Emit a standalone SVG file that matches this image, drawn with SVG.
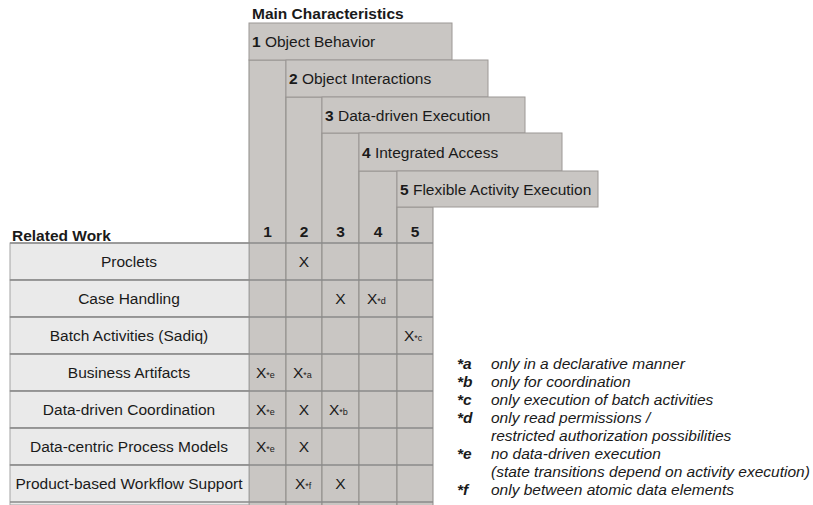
<svg xmlns="http://www.w3.org/2000/svg" width="813" height="505" viewBox="0 0 813 505">
<style>
text{font-family:"Liberation Sans",Arial,sans-serif;fill:#1a1a1a}
.hb{fill:#c9c6c3;stroke:#9c9895;stroke-width:1}
.col{fill:#c9c6c3;stroke:#8e8b88;stroke-width:1}
.lab{fill:#eaeaea;stroke:#a3a3a3;stroke-width:1}
.ht{font-size:15.5px}
.b{font-weight:bold}
.lt{font-size:15.5px;text-anchor:middle}
.x{font-size:15.5px;text-anchor:middle}
.s{font-size:9px}
.rl{stroke:#8a8a8a;stroke-width:1.5}
.fk{font-size:15.5px;font-style:italic;font-weight:bold}
.ft{font-size:15.5px;font-style:italic}
</style>
<text x="252" y="19" class="ht b">Main Characteristics</text>
<text x="12" y="241" class="ht b">Related Work</text>
<g id="columns">
<rect class="col" x="249" y="60" width="37" height="450"/>
<rect class="col" x="286" y="97" width="36" height="413"/>
<rect class="col" x="322" y="133" width="37" height="377"/>
<rect class="col" x="359" y="171" width="38" height="339"/>
<rect class="col" x="397" y="207" width="36" height="303"/>
</g>
<g id="char1"><rect class="hb" x="249" y="23" width="203" height="37"/><text x="252" y="47" class="ht"><tspan class="b">1</tspan> Object Behavior</text></g>
<g id="char2"><rect class="hb" x="286" y="60" width="202" height="37"/><text x="289" y="84" class="ht"><tspan class="b">2</tspan> Object Interactions</text></g>
<g id="char3"><rect class="hb" x="322" y="97" width="203" height="36"/><text x="325" y="121" class="ht"><tspan class="b">3</tspan> Data-driven Execution</text></g>
<g id="char4"><rect class="hb" x="359" y="133" width="203" height="38"/><text x="362" y="158" class="ht"><tspan class="b">4</tspan> Integrated Access</text></g>
<g id="char5"><rect class="hb" x="397" y="171" width="201" height="36"/><text x="400" y="195" class="ht"><tspan class="b">5</tspan> Flexible Activity Execution</text></g>
<g id="colnums">
<text x="267.5" y="237" class="x b">1</text>
<text x="304" y="237" class="x b">2</text>
<text x="340.5" y="237" class="x b">3</text>
<text x="378" y="237" class="x b">4</text>
<text x="415" y="237" class="x b">5</text>
</g>
<g id="rows">
<rect class="lab" x="10" y="243" width="239" height="37"/>
<rect class="lab" x="10" y="280" width="239" height="37"/>
<rect class="lab" x="10" y="317" width="239" height="37"/>
<rect class="lab" x="10" y="354" width="239" height="37"/>
<rect class="lab" x="10" y="391" width="239" height="37"/>
<rect class="lab" x="10" y="428" width="239" height="37"/>
<rect class="lab" x="10" y="465" width="239" height="40"/>
<line class="rl" x1="10" y1="243" x2="433" y2="243"/>
<line class="rl" x1="10" y1="280" x2="433" y2="280"/>
<line class="rl" x1="10" y1="317" x2="433" y2="317"/>
<line class="rl" x1="10" y1="354" x2="433" y2="354"/>
<line class="rl" x1="10" y1="391" x2="433" y2="391"/>
<line class="rl" x1="10" y1="428" x2="433" y2="428"/>
<line class="rl" x1="10" y1="465" x2="433" y2="465"/>
<line class="rl" x1="10" y1="502" x2="433" y2="502"/>
</g>
<g id="labels">
<text x="129" y="267" class="lt">Proclets</text>
<text x="129" y="304" class="lt">Case Handling</text>
<text x="129" y="341" class="lt">Batch Activities (Sadiq)</text>
<text x="129" y="378" class="lt">Business Artifacts</text>
<text x="129" y="415" class="lt">Data-driven Coordination</text>
<text x="129" y="452" class="lt">Data-centric Process Models</text>
<text x="129" y="489" class="lt">Product-based Workflow Support</text>
</g>
<g id="marks">
<text x="304" y="267" class="x">X</text>
<text x="340.5" y="304" class="x">X</text>
<text x="367" y="304" class="ht">X<tspan class="s">*d</tspan></text>
<text x="404" y="341" class="ht">X<tspan class="s">*c</tspan></text>
<text x="256" y="378" class="ht">X<tspan class="s">*e</tspan></text>
<text x="293" y="378" class="ht">X<tspan class="s">*a</tspan></text>
<text x="256" y="415" class="ht">X<tspan class="s">*e</tspan></text>
<text x="304" y="415" class="x">X</text>
<text x="329" y="415" class="ht">X<tspan class="s">*b</tspan></text>
<text x="256" y="452" class="ht">X<tspan class="s">*e</tspan></text>
<text x="304" y="452" class="x">X</text>
<text x="295" y="489" class="ht">X<tspan class="s">*f</tspan></text>
<text x="340.5" y="489" class="x">X</text>
</g>
<g id="footnotes">
<text x="457" y="369" class="fk">*a</text><text x="491" y="369" class="ft">only in a declarative manner</text>
<text x="457" y="387" class="fk">*b</text><text x="491" y="387" class="ft">only for coordination</text>
<text x="457" y="405" class="fk">*c</text><text x="491" y="405" class="ft">only execution of batch activities</text>
<text x="457" y="423" class="fk">*d</text><text x="491" y="423" class="ft">only read permissions /</text>
<text x="491" y="441" class="ft">restricted authorization possibilities</text>
<text x="457" y="459" class="fk">*e</text><text x="491" y="459" class="ft">no data-driven execution</text>
<text x="491" y="477" class="ft">(state transitions depend on activity execution)</text>
<text x="457" y="495" class="fk">*f</text><text x="491" y="495" class="ft">only between atomic data elements</text>
</g>
</svg>
